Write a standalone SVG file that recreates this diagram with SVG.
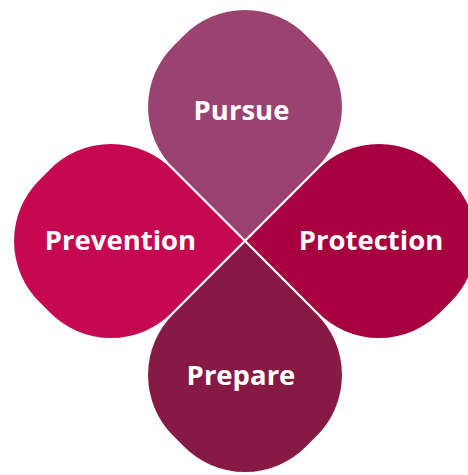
<svg xmlns="http://www.w3.org/2000/svg" width="468" height="475" viewBox="0 0 468 475">
  <style>
    .petal { stroke: #ffffff; stroke-width: 2; stroke-linejoin: miter; }
    .lbl { font-family: "Open Sans", "Liberation Sans", sans-serif; font-weight: bold; font-size: 27.5px; fill: #ffffff; text-anchor: middle; }
  </style>
  <defs>
    <path id="leaf" d="M0,0 H102.5 A87,87 0 0 1 189.5,87 V102.5 A87,87 0 0 1 102.5,189.5 H87 A87,87 0 0 1 0,102.5 Z"/>
  </defs>
  <rect width="468" height="475" fill="#ffffff"/>
  <g id="pursue">
    <use href="#leaf" class="petal" fill="#9B4370" transform="translate(245,241) rotate(-135)"/>
    <text class="lbl" x="241.5" y="120">Pursue</text>
  </g>
  <g id="prevention">
    <use href="#leaf" class="petal" fill="#C50850" transform="translate(245,241) rotate(135)"/>
    <text class="lbl" x="120.5" y="250">Prevention</text>
  </g>
  <g id="protection">
    <use href="#leaf" class="petal" fill="#A6003F" transform="translate(245,241) rotate(-45)"/>
    <text class="lbl" x="371" y="250">Protection</text>
  </g>
  <g id="prepare">
    <use href="#leaf" class="petal" fill="#871A45" transform="translate(245,241) rotate(45)"/>
    <text class="lbl" x="241" y="385">Prepare</text>
  </g>
  <g id="connectors"></g>
</svg>
